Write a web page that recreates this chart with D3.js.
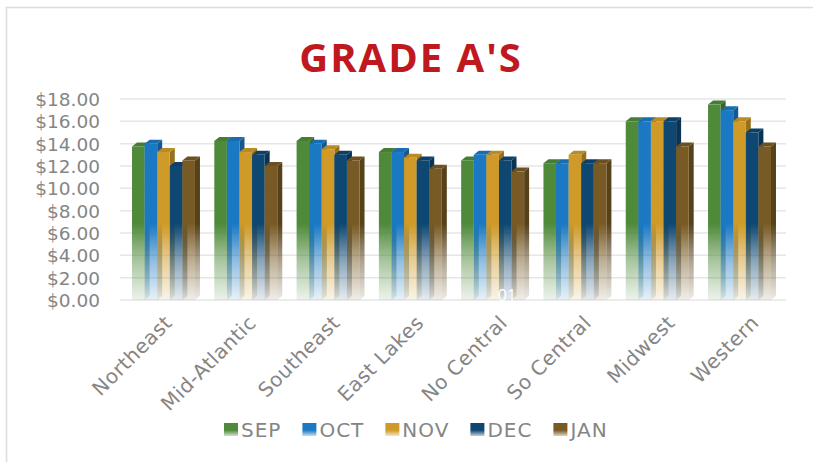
<!DOCTYPE html>
<html>
<head>
<meta charset="utf-8">
<script src="https://cdn.jsdelivr.net/npm/d3@7"></script>
<style>
  body { margin: 0; background: #fff; }
  .axis-label { font-family: 'DejaVu Sans', sans-serif; fill: #858585; }
</style>
</head>
<body>
<div id="chart"></div>
<script>
const width = 813
const height = 462

const categories = ['Northeast', 'Mid-Atlantic', 'Southeast', 'East Lakes', 'No Central', 'So Central', 'Midwest', 'Western']
const months = ['SEP', 'OCT', 'NOV', 'DEC', 'JAN']
const sep = [13.75, 14.25, 14.25, 13.25, 12.5, 12.25, 16, 17.5]
const oct = [14, 14.25, 14, 13.25, 13, 12.25, 16, 17]
const nov = [13.25, 13.25, 13.5, 12.75, 13, 13, 16, 16]
const dec = [12, 13, 13, 12.5, 12.5, 12.25, 16, 15]
const jan = [12.5, 12, 12.5, 11.75, 11.5, 12.25, 13.75, 13.75]
const yTicks = [0, 2, 4, 6, 8, 10, 12, 14, 16, 18]
const colors = ['#4f8a3b', '#1b79c4', '#cf9a27', '#0e4772', '#785a24']

const seriesValues = [sep, oct, nov, dec, jan]

const svg = d3.select('#chart')
    .append('svg')
    .attr('width', width)
    .attr('height', height)

// chart frame
svg.append('path')
    .attr('d', `M6.5,${height} V7.5 H${width}`)
    .attr('fill', 'none')
    .attr('stroke', '#dcdcdc')
    .attr('stroke-width', 1.5)

svg.append('text')
    .attr('x', 411)
    .attr('y', 72)
    .attr('text-anchor', 'middle')
    .attr('font-family', "'Open Sans', sans-serif")
    .attr('font-weight', 700)
    .attr('font-size', 40)
    .attr('letter-spacing', 2)
    .attr('fill', '#c0181f')
    .text("GRADE A'S")

const y = d3.scaleLinear().domain([0, 18]).range([300, 99])
const x = d3.scaleBand().domain(categories).range([120, 783]).paddingInner(0.235).paddingOuter(0.146)
const xs = d3.scaleBand().domain(months).range([0, x.bandwidth()])

const dx = 5
const dy = -4

const defs = svg.append('defs')
months.forEach((m, i) => {
    const g = defs.append('linearGradient')
        .attr('id', 'grad-' + m)
        .attr('gradientUnits', 'userSpaceOnUse')
        .attr('x1', 0).attr('x2', 0)
        .attr('y1', y(18)).attr('y2', y(0))
    g.append('stop').attr('offset', 0).attr('stop-color', colors[i])
    g.append('stop').attr('offset', 0.62).attr('stop-color', colors[i])
    g.append('stop').attr('offset', 0.8).attr('stop-color', colors[i]).attr('stop-opacity', 0.5)
    g.append('stop').attr('offset', 1).attr('stop-color', colors[i]).attr('stop-opacity', 0.1)

    const gs = defs.append('linearGradient')
        .attr('id', 'side-' + m)
        .attr('gradientUnits', 'userSpaceOnUse')
        .attr('x1', 0).attr('x2', 0)
        .attr('y1', y(18)).attr('y2', y(0))
    const dark = d3.color(colors[i]).darker(0.9)
    gs.append('stop').attr('offset', 0).attr('stop-color', dark)
    gs.append('stop').attr('offset', 0.62).attr('stop-color', dark)
    gs.append('stop').attr('offset', 0.8).attr('stop-color', dark).attr('stop-opacity', 0.5)
    gs.append('stop').attr('offset', 1).attr('stop-color', dark).attr('stop-opacity', 0.1)

    const gl = defs.append('linearGradient')
        .attr('id', 'leg-' + m)
        .attr('x1', 0).attr('x2', 0).attr('y1', 0).attr('y2', 1)
    gl.append('stop').attr('offset', 0).attr('stop-color', colors[i])
    gl.append('stop').attr('offset', 0.55).attr('stop-color', colors[i])
    gl.append('stop').attr('offset', 1).attr('stop-color', colors[i]).attr('stop-opacity', 0.25)
})

// gridlines
svg.append('g')
    .selectAll('line')
    .data(yTicks)
    .enter()
    .append('line')
    .attr('x1', 120)
    .attr('x2', 786)
    .attr('y1', d => y(d))
    .attr('y2', d => y(d))
    .attr('stroke', '#e6e6e6')
    .attr('stroke-width', 1.5)

svg.append('g')
    .selectAll('text')
    .data(yTicks)
    .enter()
    .append('text')
    .attr('class', 'axis-label')
    .attr('x', 100)
    .attr('y', d => y(d) + 7)
    .attr('text-anchor', 'end')
    .attr('font-size', 18.5)
    .text(d => '$' + d.toFixed(2))

// bars, drawn left to right so each covers the side of the previous one
const bars = []
categories.forEach((c, ci) => {
    months.forEach((m, mi) => {
        bars.push({ cat: c, month: m, value: seriesValues[mi][ci] })
    })
})

const y0 = y(0)
const bw = xs.bandwidth()
const barG = svg.append('g')
    .selectAll('g')
    .data(bars)
    .enter()
    .append('g')

barG.append('path')
    .attr('d', d => {
        const x0 = x(d.cat) + xs(d.month) + bw
        const y1 = y(d.value)
        return `M${x0},${y1} L${x0 + dx},${y1 + dy} L${x0 + dx},${y0 + dy} L${x0},${y0} Z`
    })
    .attr('fill', d => `url(#side-${d.month})`)

barG.append('path')
    .attr('d', d => {
        const x0 = x(d.cat) + xs(d.month)
        const y1 = y(d.value)
        return `M${x0},${y1} L${x0 + dx},${y1 + dy} L${x0 + bw + dx},${y1 + dy} L${x0 + bw},${y1} Z`
    })
    .attr('fill', d => d3.color(colors[months.indexOf(d.month)]).darker(0.3))

barG.append('rect')
    .attr('x', d => x(d.cat) + xs(d.month))
    .attr('y', d => y(d.value))
    .attr('width', bw)
    .attr('height', d => y0 - y(d.value))
    .attr('fill', d => `url(#grad-${d.month})`)

svg.append('text')
    .attr('x', 507)
    .attr('y', 301)
    .attr('text-anchor', 'middle')
    .attr('font-family', "'Open Sans', sans-serif")
    .attr('font-size', 16)
    .attr('fill', '#ffffff')
    .text('01')

// category labels
svg.append('g')
    .selectAll('text')
    .data(categories)
    .enter()
    .append('text')
    .attr('class', 'axis-label')
    .attr('font-size', 20)
    .attr('letter-spacing', 0.5)
    .attr('text-anchor', 'end')
    .attr('transform', (d, i) => `translate(${x(d) + x.bandwidth() / 2 + 10 + i * 1.5},${324}) rotate(-45)`)
    .text(d => d)

// legend
const legend = svg.append('g')
let lx = 224
months.forEach(m => {
    legend.append('rect')
        .attr('x', lx)
        .attr('y', 423)
        .attr('width', 14)
        .attr('height', 13)
        .attr('fill', `url(#leg-${m})`)
    const t = legend.append('text')
        .attr('class', 'axis-label')
        .attr('x', lx + 17)
        .attr('y', 437)
        .attr('font-size', 20)
        .attr('letter-spacing', 1)
        .text(m)
    lx += 17 + t.node().getComputedTextLength() + 21
})
</script>
</body>
</html>
